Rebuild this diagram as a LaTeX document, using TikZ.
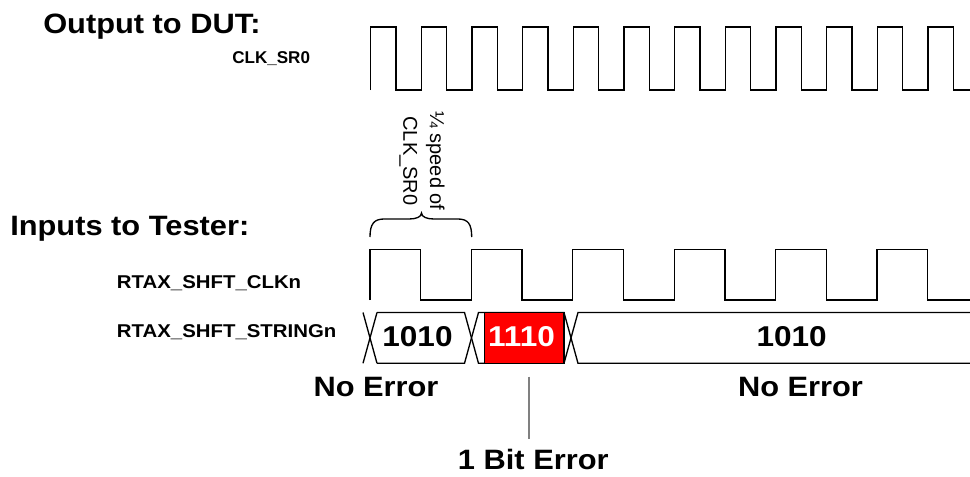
\documentclass[tikz,border=0pt]{standalone}
\usepackage{fontspec}
\setmainfont{Liberation Sans}[FakeStretch=1.1]
\newfontfamily\plainfont{Liberation Sans}
\begin{document}
\begin{tikzpicture}[x=0.75pt,y=-0.75pt,
  title/.style={font=\bfseries\fontsize{21}{25}\selectfont, inner sep=0, anchor=base west},
  sig/.style={font=\bfseries\fontsize{13.9}{16}\selectfont, inner sep=0, anchor=base west},
  clklabel/.style={font=\plainfont\bfseries\fontsize{12.8}{15}\selectfont, inner sep=0, anchor=base west},
  val/.style={font=\bfseries\fontsize{21.5}{25}\selectfont, inner sep=0, anchor=base},
  note/.style={font=\bfseries\fontsize{21}{25}\selectfont, inner sep=0, anchor=base},
  rot/.style={font=\plainfont\fontsize{15}{20}\selectfont, inner sep=0, align=center, rotate=-90},
  wave/.style={line width=1pt, line join=miter},
  errbox/.style={draw, fill=red, line width=1pt, inner sep=0, minimum width=59.6pt, minimum height=38.1pt}]
\useasboundingbox (0,0) rectangle (970,476);

% titles and signal names
\node[title] (t1) at (43,33.3) {Output to DUT:};
\node[clklabel] (l1) at (232,63.3) {CLK\_SR0};
\node[title] (t2) at (10,235) {Inputs to Tester:};
\node[sig] (l2) at (116.7,288) {RTAX\_SHFT\_CLKn};
\node[sig] (l3) at (116.7,337) {RTAX\_SHFT\_STRINGn};

% CLK_SR0
\draw[wave] (370.5,90) \foreach \k in {0,...,11}{
  -- ({370.5+50.68*\k},90) -- ({370.5+50.68*\k},27)
  -- ({395.84+50.68*\k},27) -- ({395.84+50.68*\k},90)} -- (970,90);

% RTAX_SHFT_CLKn
\draw[wave] (370,300) \foreach \k in {0,...,5}{
  -- ({370+101.4*\k},300) -- ({370+101.4*\k},249.5)
  -- ({420.7+101.4*\k},249.5) -- ({420.7+101.4*\k},300)} -- (970,300);

% brace and rotated note
\draw[line width=1pt] (370,237) .. controls (370,224) and (374,219) .. (384,219)
  -- (409,219) .. controls (416,219) and (421.5,217) .. (421.5,213)
  .. controls (421.5,217) and (427,219) .. (434,219)
  -- (458,219) .. controls (468,219) and (471.7,224) .. (471.7,237);
\node[rot] (spd) at (422,161) {¼ speed of\\CLK\_SR0};

% bus RTAX_SHFT_STRINGn
\def\bt{312.5}
\def\bb{363.3}
\draw[wave] (363,\bt) -- (377,\bb) (363,\bb) -- (377,\bt);
\draw[wave] (377,\bt) -- (464.5,\bt) -- (478.5,\bb) -- (564,\bb) -- (578,\bt) -- (970,\bt);
\draw[wave] (377,\bb) -- (464.5,\bb) -- (478.5,\bt) -- (564,\bt) -- (578,\bb) -- (970,\bb);
\node[errbox] (err) at (524.25,337.9) {};

\node[val] (v1) at (417.5,346.7) {1010};
\node[val, text=white] (v2) at (521.5,346.7) {1110};
\node[val] (v3) at (791.7,346.7) {1010};

% annotations
\node[note] (n1) at (376,396.7) {No Error};
\node[note] (n2) at (800.5,396.7) {No Error};
\node[note] (n3) at (533.3,469) {1 Bit Error};
\coordinate (e1) at (529,376.7);
\coordinate (e2) at (529,439.3);
\draw[gray, line width=0.9pt] (e1) -- (e2);
\end{tikzpicture}
\end{document}
